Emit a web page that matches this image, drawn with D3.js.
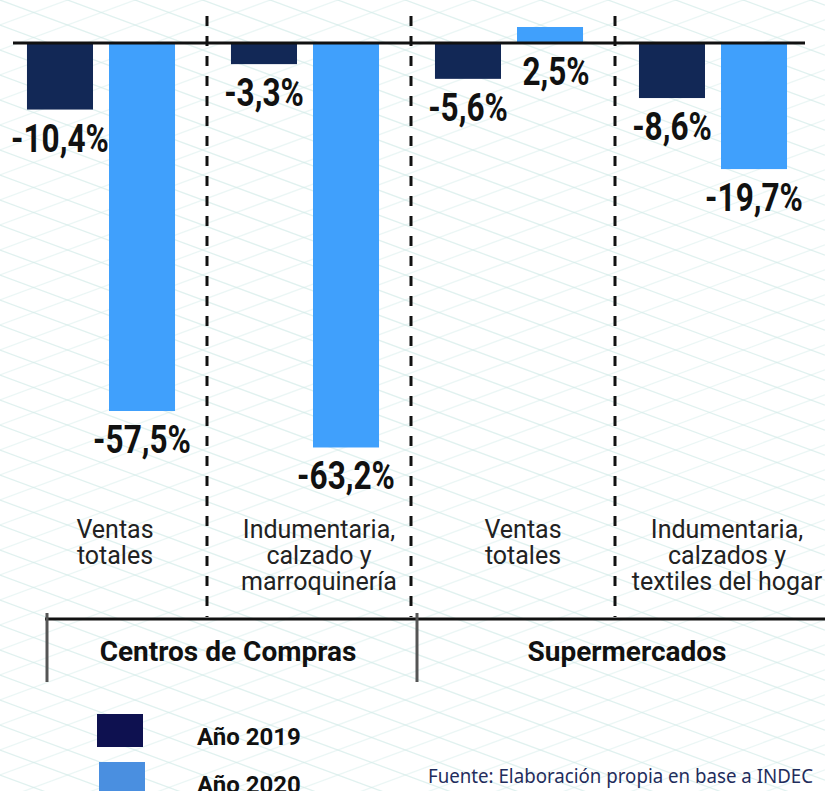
<!DOCTYPE html>
<html>
  <head>
    <meta charset="utf-8">
    <script src="https://d3js.org/d3.v7.min.js"></script>
    <style>
      body { margin: 0; background: #fff; }
    </style>
  </head>
  <body>
<script type="text/javascript">
var width = 825;
var height = 791;

// data
var categories = ['Ventas totales', 'Indumentaria, calzado y marroquinería', 'Ventas totales ', 'Indumentaria, calzados y textiles del hogar'];
var categoryLines = [['Ventas', 'totales'], ['Indumentaria,', 'calzado y', 'marroquinería'], ['Ventas', 'totales'], ['Indumentaria,', 'calzados y', 'textiles del hogar']];
var years = ['2019', '2020'];
var values2019 = [-10.4, -3.3, -5.6, -8.6];
var values2020 = [-57.5, -63.2, 2.5, -19.7];
var groups = ['Centros de Compras', 'Supermercados'];
var legendLabels = ['Año 2019', 'Año 2020'];
var source = 'Fuente: Elaboración propia en base a INDEC';

var barColors = {'2019': '#122856', '2020': '#40a0fc'};
var legendColors = ['#0e1150', '#4a8fe0'];

var svg = d3.select('body').append('svg')
      .attr('width', width)
      .attr('height', height);

// background lattice (decoration)
var bg = svg.append('g').attr('stroke', '#d3ebe8').attr('stroke-width', 1.3).attr('fill', 'none');
var slope = 0.37;
d3.range(-400, 1100, 25).forEach(function(y0) {
  bg.append('line').attr('x1', 0).attr('y1', y0).attr('x2', width).attr('y2', y0 + slope * width)
    .attr('opacity', 0.7);
});
d3.range(-400, 1100, 25).forEach(function(y0) {
  bg.append('line').attr('x1', 0).attr('y1', y0).attr('x2', width).attr('y2', y0 - slope * width)
    .attr('opacity', 0.45);
});

var x = d3.scaleBand()
      .domain(categories)
      .range([-1, 815]);

var xSub = d3.scaleBand()
      .domain(years)
      .range([0, x.bandwidth()])
      .paddingInner(0.195)
      .paddingOuter(0.341);

var y = d3.scaleLinear()
      .domain([0, -65])
      .range([43, 43 + 65 * 6.4]);

var rows = categories.map(function(c, i) {
  return {cat: c, lines: categoryLines[i], vals: [
    {year: '2019', v: values2019[i]},
    {year: '2020', v: values2020[i]}
  ]};
});

// dashed separators
svg.append('g')
    .selectAll('line')
    .data(categories.slice(1))
    .enter()
    .append('line')
    .attr('x1', function(d) { return x(d) + 4; })
    .attr('x2', function(d) { return x(d) + 4; })
    .attr('y1', 16)
    .attr('y2', 617)
    .attr('stroke', '#111')
    .attr('stroke-width', 3)
    .attr('stroke-dasharray', '10,10');

var g = svg.append('g')
    .selectAll('g')
    .data(rows)
    .enter()
    .append('g')
    .attr('transform', function(d) { return 'translate(' + x(d.cat) + ',0)'; });

g.selectAll('rect')
    .data(function(d) { return d.vals; })
    .enter()
    .append('rect')
    .attr('x', function(d) { return xSub(d.year); })
    .attr('width', xSub.bandwidth())
    .attr('y', function(d) { return Math.min(y(d.v), y(0)); })
    .attr('height', function(d) { return Math.abs(y(d.v) - y(0)); })
    .attr('fill', function(d) { return barColors[d.year]; });

g.selectAll('text.val')
    .data(function(d) { return d.vals; })
    .enter()
    .append('text')
    .attr('class', 'val')
    .attr('x', function(d) { return xSub(d.year) + xSub.bandwidth() / 2 + (d.v > 0 ? 6 : 0); })
    .attr('y', function(d) { return (d.v < 0 ? y(d.v) : y(0)) + 42; })
    .attr('text-anchor', 'middle')
    .style('font-family', 'Roboto, sans-serif')
    .style('font-weight', 'bold')
    .style('font-size', '38px')
    .attr('fill', '#111')
    .text(function(d) { return String(d.v).replace('.', ',') + '%'; })
    .each(function() {
      // condensed look
      var w = this.getComputedTextLength();
      d3.select(this).attr('textLength', w * 0.83).attr('lengthAdjust', 'spacingAndGlyphs');
    });

// category labels
g.append('text')
    .attr('text-anchor', 'middle')
    .style('font-family', 'Roboto, sans-serif')
    .style('font-size', '25px')
    .attr('fill', '#222')
    .selectAll('tspan')
    .data(function(d) { return d.lines; })
    .enter()
    .append('tspan')
    .attr('x', x.bandwidth() / 2 + 14)
    .attr('y', function(d, i) { return 538 + i * 26; })
    .text(function(d) { return d; });

// zero line
svg.append('line')
    .attr('x1', 13)
    .attr('x2', 805)
    .attr('y1', y(0))
    .attr('y2', y(0))
    .attr('stroke', '#111')
    .attr('stroke-width', 3);

// group bracket
svg.append('line')
    .attr('x1', 45).attr('x2', width)
    .attr('y1', 619).attr('y2', 619)
    .attr('stroke', '#111').attr('stroke-width', 3);

svg.append('g')
    .selectAll('line')
    .data([47, 417])
    .enter()
    .append('line')
    .attr('x1', function(d) { return d; })
    .attr('x2', function(d) { return d; })
    .attr('y1', 613).attr('y2', 682)
    .attr('stroke', '#555').attr('stroke-width', 3);

svg.append('g')
    .selectAll('text')
    .data(groups)
    .enter()
    .append('text')
    .attr('x', function(d, i) { return [228, 627][i]; })
    .attr('y', 661)
    .attr('text-anchor', 'middle')
    .style('font-family', 'Roboto, sans-serif')
    .style('font-weight', 'bold')
    .style('font-size', '28px')
    .attr('fill', '#111')
    .text(function(d) { return d; });

// legend
var leg = svg.append('g')
    .selectAll('g')
    .data(legendLabels)
    .enter()
    .append('g')
    .attr('transform', function(d, i) { return 'translate(0,' + (i * 48) + ')'; });

leg.append('rect')
    .attr('x', function(d, i) { return 97 + i * 2; })
    .attr('y', 714)
    .attr('width', 46)
    .attr('height', 33)
    .attr('fill', function(d, i) { return legendColors[i]; });

leg.append('text')
    .attr('x', 197)
    .attr('y', 745)
    .style('font-family', 'Roboto, sans-serif')
    .style('font-weight', 'bold')
    .style('font-size', '24px')
    .attr('fill', '#111')
    .text(function(d) { return d; });

svg.append('text')
    .attr('x', 428)
    .attr('y', 783)
    .attr('textLength', 385)
    .attr('lengthAdjust', 'spacingAndGlyphs')
    .style('font-family', '"Noto Sans", sans-serif')
    .style('font-size', '20px')
    .attr('fill', '#1f2d5c')
    .text(source);
</script>
  </body>
</html>
